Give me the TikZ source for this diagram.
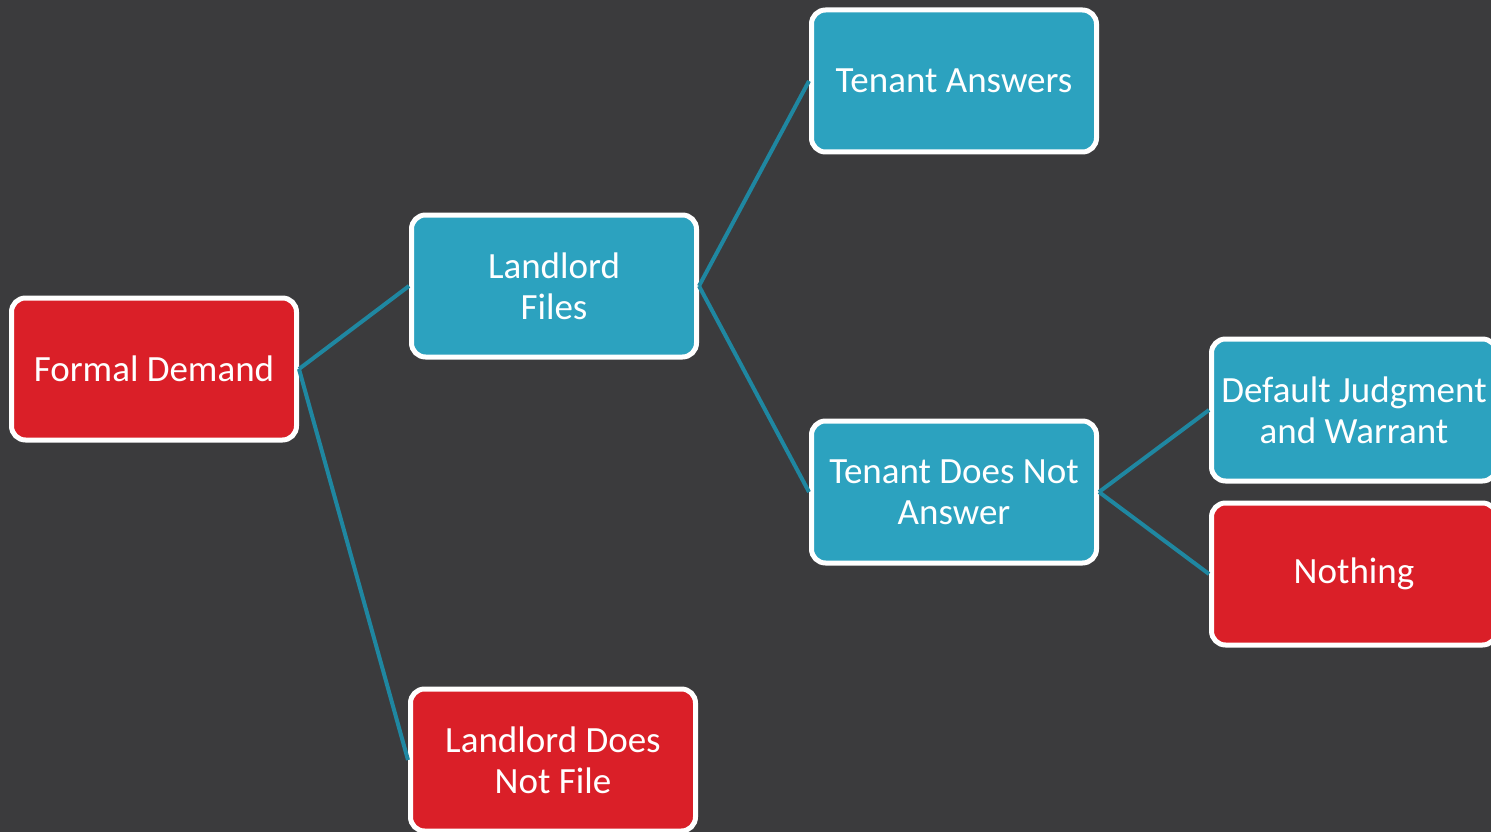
\documentclass[tikz,border=0pt]{standalone}
\usepackage{fontspec}
\setmainfont{Carlito}
\definecolor{bgdark}{HTML}{3B3B3D}
\definecolor{boxred}{HTML}{DA1F28}
\definecolor{boxblue}{HTML}{2CA2BF}
\definecolor{linkteal}{HTML}{1F87A1}
\tikzset{
  stagebox/.style={draw=white, line width=5pt, rounded corners=14pt,
    minimum width=285pt, minimum height=142pt, inner sep=0pt,
    align=center, text=white, font=\fontsize{37}{41}\selectfont},
  redbox/.style={stagebox, fill=boxred},
  bluebox/.style={stagebox, fill=boxblue},
  link/.style={draw=linkteal, line width=4pt}
}
\begin{document}
\begin{tikzpicture}[x=1pt, y=-1pt]
  \useasboundingbox (0,0) rectangle (1491,832);
  \clip (0,0) rectangle (1491,832);
  \fill[bgdark] (0,0) rectangle (1491,832);

  % decision tree stages
  \node[redbox]  (demand)   at (154,369) {Formal Demand};
  \node[bluebox] (files)    at (554,286) {Landlord\\Files};
  \node[redbox]  (nofile)   at (553,760) {Landlord Does\\Not File};
  \node[bluebox] (answers)  at (954,81)  {Tenant Answers};
  \node[bluebox] (noanswer) at (954,492) {Tenant Does Not\\Answer};
  \node[bluebox] (default)  at (1354,410) {Default Judgment\\and Warrant};
  \node[redbox]  (nothing)  at (1354,574) {Nothing};

  % branches
  \draw[link] (demand.east) -- (files.west);
  \draw[link] (demand.east) -- (nofile.west);
  \draw[link] (files.east) -- (answers.west);
  \draw[link] (files.east) -- (noanswer.west);
  \draw[link] (noanswer.east) -- (default.west);
  \draw[link] (noanswer.east) -- (nothing.west);
\end{tikzpicture}
\end{document}
